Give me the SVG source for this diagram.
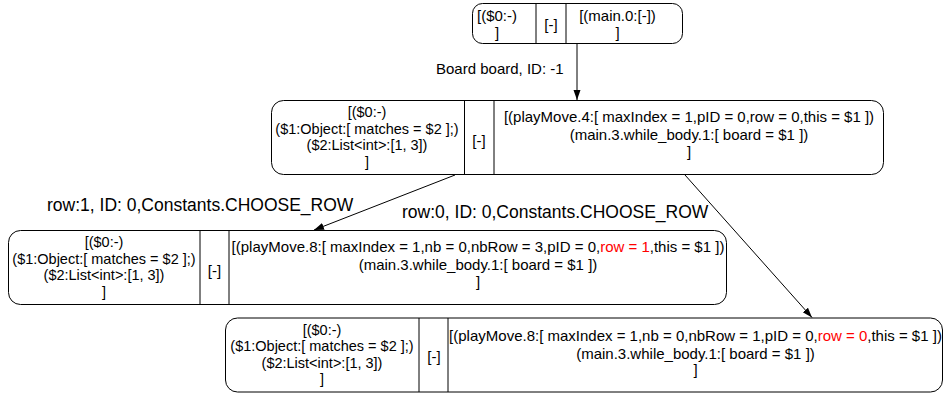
<svg xmlns="http://www.w3.org/2000/svg" width="944" height="394" viewBox="0 0 944 394">
  <style>
    .box { fill: #ffffff; stroke: #000000; stroke-width: 1; }
    .sep { stroke: #000000; stroke-width: 1; }
    .t { font-family: "Liberation Sans", Arial, sans-serif; font-size: 15px; fill: #000000; text-anchor: middle; }
    .s { font-size: 14.5px; }
    .lbl { font-family: "Liberation Sans", Arial, sans-serif; fill: #000000; }
    .hl { fill: #ff0000; }
    .edge { fill: none; stroke: #000000; stroke-width: 1; }
  </style>
  <defs>
    <marker id="arrow" markerUnits="userSpaceOnUse" markerWidth="11" markerHeight="8" refX="10" refY="3.5" orient="auto">
      <path d="M0,0 L10,3.5 L0,7 z" fill="#000000"/>
    </marker>
  </defs>
  <rect width="944" height="394" fill="#ffffff"/>

  <!-- connectors -->
  <g id="edges">
    <line class="edge" x1="577" y1="43.5" x2="577" y2="100" marker-end="url(#arrow)"/>
    <text class="lbl" x="436" y="73.5" font-size="15">Board board, ID: -1</text>
    <line class="edge" x1="455" y1="175" x2="314" y2="230" marker-end="url(#arrow)"/>
    <text class="lbl" x="47" y="211" font-size="17.5">row:1, ID: 0,Constants.CHOOSE_ROW</text>
    <line class="edge" x1="685" y1="175" x2="812" y2="317.5" marker-end="url(#arrow)"/>
    <text class="lbl" x="402" y="218" font-size="17.5">row:0, ID: 0,Constants.CHOOSE_ROW</text>
  </g>

  <!-- root state -->
  <g id="node0">
    <rect class="box" x="472.5" y="3.5" width="210" height="40" rx="10" ry="10"/>
    <line class="sep" x1="536" y1="3.5" x2="536" y2="43.5"/>
    <line class="sep" x1="566" y1="3.5" x2="566" y2="43.5"/>
    <text class="t" x="497" y="21">[($0:-)</text>
    <text class="t" x="497" y="38">]</text>
    <text class="t" x="551" y="30">[-]</text>
    <text class="t" x="617.5" y="21">[(main.0:[-])</text>
    <text class="t" x="617.5" y="38">]</text>
  </g>

  <!-- playMove.4 state -->
  <g id="node1">
    <rect class="box" x="271.5" y="100.5" width="612" height="74" rx="12" ry="12"/>
    <line class="sep" x1="464.5" y1="100.5" x2="464.5" y2="174.5"/>
    <line class="sep" x1="494" y1="100.5" x2="494" y2="174.5"/>
    <text class="t s" x="367" y="117">[($0:-)</text>
    <text class="t s" x="367" y="133.5">($1:Object:[ matches = $2 ];)</text>
    <text class="t s" x="367" y="150">($2:List&lt;int&gt;:[1, 3])</text>
    <text class="t s" x="367" y="166.5">]</text>
    <text class="t" x="479" y="146">[-]</text>
    <text class="t" x="689" y="122">[(playMove.4:[ maxIndex = 1,pID = 0,row = 0,this = $1 ])</text>
    <text class="t" x="689" y="140">(main.3.while_body.1:[ board = $1 ])</text>
    <text class="t" x="689" y="157">]</text>
  </g>

  <!-- playMove.8 state, row 1 -->
  <g id="node2">
    <rect class="box" x="8.5" y="230.5" width="718" height="74" rx="12" ry="12"/>
    <line class="sep" x1="200" y1="230.5" x2="200" y2="304.5"/>
    <line class="sep" x1="229" y1="230.5" x2="229" y2="304.5"/>
    <text class="t s" x="104" y="247">[($0:-)</text>
    <text class="t s" x="104" y="263.5">($1:Object:[ matches = $2 ];)</text>
    <text class="t s" x="104" y="280">($2:List&lt;int&gt;:[1, 3])</text>
    <text class="t s" x="104" y="296.5">]</text>
    <text class="t" x="214.5" y="276">[-]</text>
    <text class="t" x="478" y="252">[(playMove.8:[ maxIndex = 1,nb = 0,nbRow = 3,pID = 0,<tspan class="hl">row = 1</tspan>,this = $1 ])</text>
    <text class="t" x="478" y="270">(main.3.while_body.1:[ board = $1 ])</text>
    <text class="t" x="478" y="287">]</text>
  </g>

  <!-- playMove.8 state, row 0 -->
  <g id="node3">
    <rect class="box" x="225.5" y="318" width="717" height="74" rx="12" ry="12"/>
    <line class="sep" x1="419" y1="318" x2="419" y2="392"/>
    <line class="sep" x1="448" y1="318" x2="448" y2="392"/>
    <text class="t s" x="322" y="334.5">[($0:-)</text>
    <text class="t s" x="322" y="351">($1:Object:[ matches = $2 ];)</text>
    <text class="t s" x="322" y="367.5">($2:List&lt;int&gt;:[1, 3])</text>
    <text class="t s" x="322" y="384">]</text>
    <text class="t" x="434" y="362">[-]</text>
    <text class="t" x="695.5" y="341">[(playMove.8:[ maxIndex = 1,nb = 0,nbRow = 1,pID = 0,<tspan class="hl">row = 0</tspan>,this = $1 ])</text>
    <text class="t" x="695.5" y="359">(main.3.while_body.1:[ board = $1 ])</text>
    <text class="t" x="695.5" y="375">]</text>
  </g>
</svg>
